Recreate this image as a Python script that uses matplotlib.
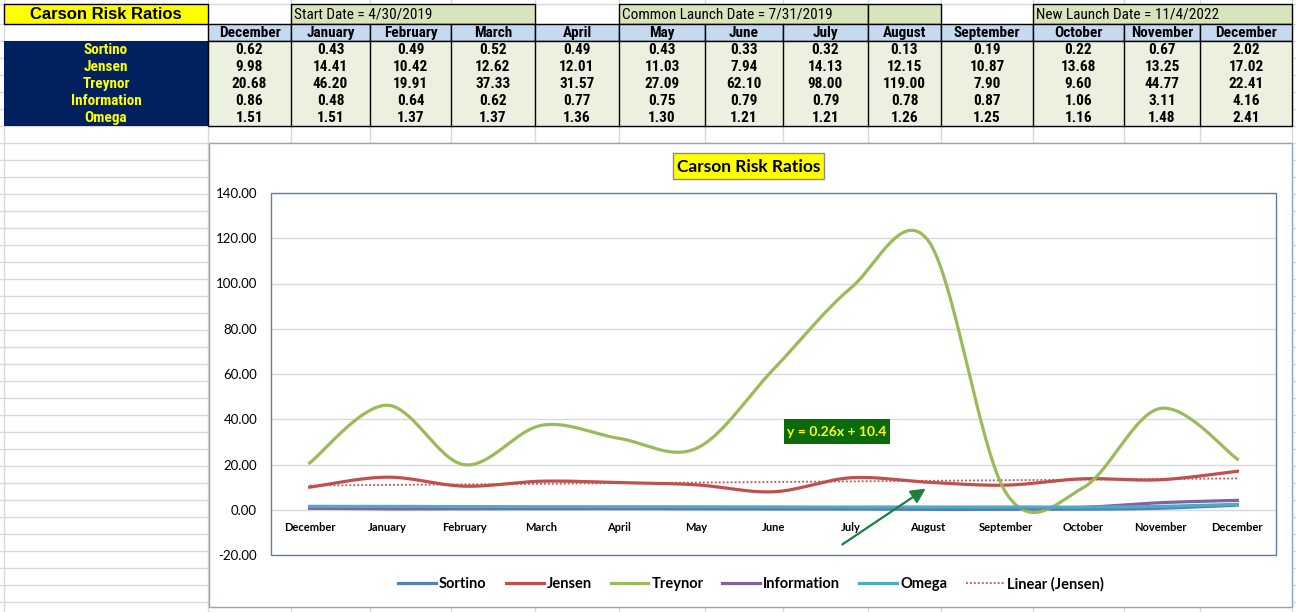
import numpy as np
import matplotlib
matplotlib.use("Agg")
import matplotlib.pyplot as plt
from matplotlib.patches import Rectangle
from matplotlib import font_manager

# data from the sheet
months = ["December", "January", "February", "March", "April", "May", "June",
          "July", "August", "September", "October", "November", "December"]
sortino = [0.62, 0.43, 0.49, 0.52, 0.49, 0.43, 0.33, 0.32, 0.13, 0.19, 0.22, 0.67, 2.02]
jensen = [9.98, 14.41, 10.42, 12.62, 12.01, 11.03, 7.94, 14.13, 12.15, 10.87, 13.68, 13.25, 17.02]
treynor = [20.68, 46.20, 19.91, 37.33, 31.57, 27.09, 62.10, 98.00, 119.00, 7.90, 9.60, 44.77, 22.41]
information = [0.86, 0.48, 0.64, 0.62, 0.77, 0.75, 0.79, 0.79, 0.78, 0.87, 1.06, 3.11, 4.16]
omega = [1.51, 1.51, 1.37, 1.37, 1.36, 1.30, 1.21, 1.21, 1.26, 1.25, 1.16, 1.48, 2.41]
series_names = ["Sortino", "Jensen", "Treynor", "Information", "Omega"]
sheet_title = "Carson Risk Ratios"
date_notes = ["Start Date = 4/30/2019", "Common Launch Date = 7/31/2019", "New Launch Date = 11/4/2022"]

colors = ["#4F81BD", "#C0504D", "#9BBB59", "#8064A2", "#4BACC6"]

W, H = 1296, 612

# the sheet uses a narrow font; take one if there is any, else shrink a normal one
names = sorted({f.name for f in font_manager.fontManager.ttflist})
narrow = None
for pref in ("Liberation Sans Narrow", "Roboto Condensed", "Open Sans Condensed",
             "DejaVu Sans Condensed"):
    if pref in names:
        narrow = pref
        break
if narrow is None:
    others = [n for n in names if "Narrow" in n or "Condensed" in n]
    narrow = others[0] if others else None
if narrow is None:
    narrow, tsize = "Liberation Sans", 9.5
else:
    tsize = 11


def fbox(x0, y0, x1, y1):
    return [x0 / W, 1 - y1 / H, (x1 - x0) / W, (y1 - y0) / H]


def smooth(vals, n=40):
    # excel style smoothed line (bezier through points, tension 1/6)
    y = np.asarray(vals, float)
    x = np.arange(len(y), dtype=float)
    px = np.concatenate([[x[0]], x, [x[-1]]])
    py = np.concatenate([[y[0]], y, [y[-1]]])
    t = np.linspace(0, 1, n)[:, None]
    out = []
    for i in range(len(y) - 1):
        p0 = np.array([x[i], y[i]])
        p3 = np.array([x[i + 1], y[i + 1]])
        c1 = p0 + (np.array([px[i + 2], py[i + 2]]) - np.array([px[i], py[i]])) / 6
        c2 = p3 - (np.array([px[i + 3], py[i + 3]]) - np.array([px[i + 1], py[i + 1]])) / 6
        seg = (1 - t) ** 3 * p0 + 3 * (1 - t) ** 2 * t * c1 + 3 * (1 - t) * t ** 2 * c2 + t ** 3 * p3
        out.append(seg if i == 0 else seg[1:])
    out = np.vstack(out)
    return out[:, 0], out[:, 1]


fig = plt.figure(figsize=(W / 100, H / 100), dpi=100)
bg = fig.add_axes([0, 0, 1, 1])
bg.set_xlim(0, W)
bg.set_ylim(H, 0)
bg.axis("off")

col_edges = [4, 208, 291, 370, 451, 535, 619, 705, 783, 868, 941, 1033, 1124, 1200, 1292]
row_edges = [4, 24, 41, 58, 75, 92, 109, 126]
grid_c = "#D9D9D9"

# spreadsheet gridlines
for x in col_edges:
    bg.plot([x, x], [0, H], color=grid_c, lw=1, zorder=0)
for y in list(row_edges) + list(range(143, H, 17)):
    bg.plot([0, W], [y, y], color=grid_c, lw=1, zorder=0)

# row 1
bg.add_patch(Rectangle((4, 4), 204, 20, fc="#FFFF00", ec="black", lw=1, zorder=2))
bg.text(106, 14.5, sheet_title, ha="center", va="center", family="Liberation Sans",
        weight="bold", size=12, zorder=3)
note_spans = [(291, 535), (619, 868), (1033, 1292)]
for (x0, x1), txt in zip(note_spans, date_notes):
    bg.add_patch(Rectangle((x0, 4), x1 - x0, 20, fc="#D8E4BC", ec="black", lw=1, zorder=2))
    bg.text(x0 + 3, 14.5, txt, ha="left", va="center", family=narrow, size=tsize, zorder=3)
bg.add_patch(Rectangle((868, 4), 73, 20, fc="#D8E4BC", ec="black", lw=1, zorder=2))

# row 2 - month headers
for i, m in enumerate(months):
    x0, x1 = col_edges[i + 1], col_edges[i + 2]
    bg.add_patch(Rectangle((x0, 24), x1 - x0, 17, fc="#C5D9F1", ec="black", lw=1, zorder=2))
    bg.text((x0 + x1) / 2, 33, m, ha="center", va="center", family=narrow,
            weight="bold", size=tsize, zorder=3)

# data rows
bg.add_patch(Rectangle((4, 41), 204, 85, fc="#002060", ec="none", zorder=2))
bg.add_patch(Rectangle((208, 41), 1084, 85, fc="#EBF1DE", ec="black", lw=1, zorder=2))
for x in col_edges[2:-1]:
    bg.plot([x, x], [41, 126], color="black", lw=1, zorder=3)
table = [sortino, jensen, treynor, information, omega]
for r, (name, vals) in enumerate(zip(series_names, table)):
    yc = 50 + 17 * r
    bg.text(106, yc, name, ha="center", va="center", family=narrow, weight="bold",
            size=tsize, color="#FFFF00", zorder=3)
    for i, v in enumerate(vals):
        xc = (col_edges[i + 1] + col_edges[i + 2]) / 2
        bg.text(xc, yc, f"{v:.2f}", ha="center", va="center", family=narrow,
                weight="bold", size=tsize, zorder=3)

# chart area
bg.add_patch(Rectangle((209, 143), 1083, 464, fc="white", ec="#8FA7C4", lw=1, zorder=1))
bg.add_patch(Rectangle((673, 153), 151, 26, fc="#FFFF00", ec="#8C8C8C", lw=1, zorder=3))
bg.text(748.5, 166.5, sheet_title, ha="center", va="center", family="Lato",
        weight="bold", size=12.5, zorder=4)

ax = fig.add_axes(fbox(271, 193, 1276, 555), zorder=2)
ax.set_facecolor("white")
for s in ax.spines.values():
    s.set_visible(False)
ax.spines["bottom"].set_position(("data", 0))
ax.set_xlim(-0.5, 12.5)
ax.set_ylim(-20, 140)
ax.set_yticks(range(-20, 141, 20))
ax.set_yticklabels([f"{v:.2f}" for v in range(-20, 141, 20)], family="Lato", size=9.5)
ax.yaxis.grid(True, color=grid_c, lw=1)
ax.set_axisbelow(True)
ax.set_xticks(range(len(months)))
ax.set_xticklabels(months, family="Lato", weight="bold", size=8)
ax.tick_params(axis="both", length=0)
ax.tick_params(axis="x", pad=9)
ax.tick_params(axis="y", pad=10)
ax.add_patch(Rectangle((0, 0), 1, 1, transform=ax.transAxes, fill=False,
                       ec="#5F7FA3", lw=1, clip_on=False, zorder=5))

handles = []
for name, vals, c in zip(series_names, table, colors):
    xs, ys = smooth(vals)
    ln, = ax.plot(xs, ys, color=c, lw=2.3, label=name, zorder=3)
    handles.append(ln)

xi = np.arange(len(jensen))
m, b = np.polyfit(xi + 1, jensen, 1)
tr, = ax.plot(xi, m * (xi + 1) + b, color="#C0504D", lw=1.3, ls=(0, (1, 1.2)),
              label="Linear (Jensen)", zorder=2.5)
handles.append(tr)

# trendline equation label and arrow
ax.add_patch(Rectangle((784, 419), 106, 25, transform=bg.transData, fc="#0B6B0B",
                       ec="none", clip_on=False, zorder=6))
ax.text(837, 432, f"y = {m:.2f}x + {b:.1f}", transform=bg.transData, ha="center",
        va="center", color="#FFFF00", family="Lato", weight="bold", size=10, zorder=7)
ax.annotate("", xy=(928, 487), xytext=(840, 546), xycoords=bg.transData,
            textcoords=bg.transData,
            arrowprops=dict(arrowstyle="-|>", color="#1F7F3F", lw=1.6, mutation_scale=22),
            zorder=7, annotation_clip=False)

fig.legend(handles, [h.get_label() for h in handles], loc="center",
           bbox_to_anchor=(751 / W, 1 - 584 / H), ncol=6, frameon=False,
           prop=dict(family="Lato", weight="bold", size=10.5), handlelength=2.6,
           handletextpad=0.2, columnspacing=1.3)

fig.savefig("out.png", dpi=100)
